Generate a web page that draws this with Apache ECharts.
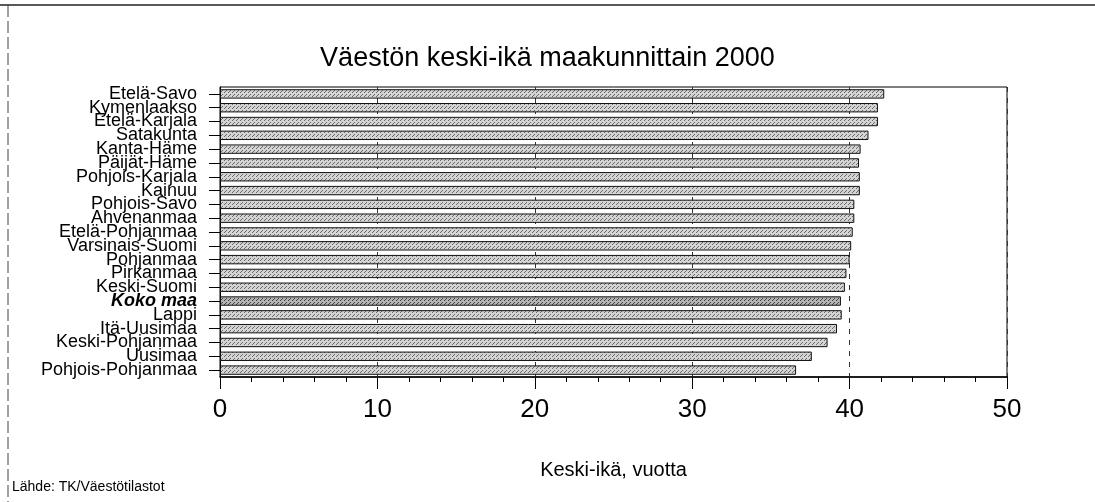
<!DOCTYPE html>
<html>
<head>
<meta charset="utf-8">
<script src="https://cdn.jsdelivr.net/npm/echarts@6/dist/echarts.min.js"></script>
<style>
  html, body { margin: 0; padding: 0; background: #fff; }
  #chart { width: 1095px; height: 502px; }
</style>
</head>
<body>
<div id="chart"></div>
<script>
const regions = [
  'Etelä-Savo', 'Kymenlaakso', 'Etelä-Karjala', 'Satakunta', 'Kanta-Häme',
  'Päijät-Häme', 'Pohjois-Karjala', 'Kainuu', 'Pohjois-Savo', 'Ahvenanmaa',
  'Etelä-Pohjanmaa', 'Varsinais-Suomi', 'Pohjanmaa', 'Pirkanmaa', 'Keski-Suomi',
  'Koko maa', 'Lappi', 'Itä-Uusimaa', 'Keski-Pohjanmaa', 'Uusimaa', 'Pohjois-Pohjanmaa'
]
const meanAge = [
  42.2, 41.8, 41.8, 41.2, 40.7,
  40.6, 40.65, 40.65, 40.3, 40.3,
  40.2, 40.1, 40.0, 39.8, 39.7,
  39.45, 39.5, 39.2, 38.6, 37.6, 36.6
]
const xTicks = [0, 10, 20, 30, 40, 50]
const wholeCountry = 'Koko maa'

// dotted grey fill like the scanned print
const makePattern = (base, dot) => {
  const c = document.createElement('canvas')
  c.width = 4
  c.height = 4
  const ctx = c.getContext('2d')
  ctx.fillStyle = base
  ctx.fillRect(0, 0, 4, 4)
  ctx.fillStyle = dot
  ctx.fillRect(0, 0, 1, 1)
  ctx.fillRect(2, 2, 1, 1)
  ctx.fillRect(1, 3, 1, 1)
  return { image: c, repeat: 'repeat' }
}
const normalFill = makePattern('#d4d4d4', '#6a6a6a')
const totalFill = makePattern('#b4b4b4', '#444444')

const chart = echarts.init(document.getElementById('chart'))
const font = '"Liberation Sans", Arial, sans-serif'

chart.setOption({
  backgroundColor: '#fff',
  animation: false,
  textStyle: { fontFamily: font, color: '#000' },
  title: {
    text: 'Väestön keski-ikä maakunnittain 2000',
    left: 'center',
    top: 40,
    textStyle: { fontSize: 27, fontWeight: 'normal', color: '#000', fontFamily: font }
  },
  grid: {
    left: 220, right: 88, top: 87, bottom: 125,
    show: true, borderColor: '#000', borderWidth: 1, backgroundColor: 'transparent'
  },
  xAxis: {
    type: 'value',
    min: 0,
    max: 50,
    interval: 10,
    name: 'Keski-ikä, vuotta',
    nameLocation: 'middle',
    nameGap: 83,
    nameTextStyle: { fontSize: 20, color: '#000', fontFamily: font },
    axisLine: { show: true, lineStyle: { color: '#000', width: 1.5 } },
    axisTick: { show: true, length: 12, lineStyle: { color: '#000' } },
    minorTick: { show: true, splitNumber: 5, length: 5, lineStyle: { color: '#000' } },
    axisLabel: {
      fontSize: 26, color: '#000', margin: 20, fontFamily: font,
      formatter: v => (xTicks.includes(v) ? String(v) : '')
    },
    splitLine: { show: true, lineStyle: { color: '#333', type: [5, 6], width: 1 } }
  },
  yAxis: {
    type: 'category',
    data: regions,
    inverse: true,
    axisLine: { show: true, lineStyle: { color: '#000' } },
    axisTick: { show: true, length: 11, alignWithLabel: true, lineStyle: { color: '#000' } },
    axisLabel: {
      fontSize: 18, color: '#000', margin: 23, lineHeight: 14, fontFamily: font,
      interval: 0,
      formatter: v => (v === wholeCountry ? '{b|' + v + '}' : v),
      rich: { b: { fontWeight: 'bold', fontStyle: 'italic', fontSize: 18, lineHeight: 14, fontFamily: font, color: '#000' } }
    }
  },
  series: [{
    type: 'bar',
    data: meanAge.map((v, i) => ({
      value: v,
      itemStyle: { color: regions[i] === wholeCountry ? totalFill : normalFill }
    })),
    barCategoryGap: '32%',
    itemStyle: { borderColor: '#111', borderWidth: 1 }
  }],
  graphic: [
    { type: 'line', shape: { x1: 0, y1: 5, x2: 1095, y2: 5 }, style: { stroke: '#222', lineWidth: 1.5 } },
    { type: 'line', shape: { x1: 8, y1: 5, x2: 8, y2: 502 }, style: { stroke: '#444', lineWidth: 1, lineDash: [12, 4] } },
    {
      type: 'text', left: 12, top: 480,
      style: { text: 'Lähde: TK/Väestötilastot', fontSize: 14, fill: '#000', fontFamily: font }
    }
  ]
})
</script>
</body>
</html>
